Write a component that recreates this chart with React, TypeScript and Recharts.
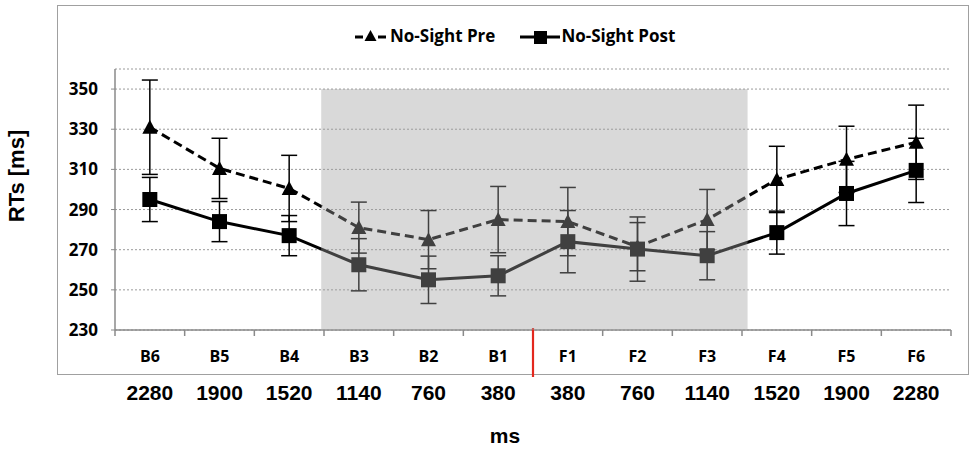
import React from 'react';
import {
  LineChart,
  Line,
  XAxis,
  YAxis,
  CartesianGrid,
  ErrorBar,
  ReferenceArea,
  Legend,
} from 'recharts';

// ---- data ----
const categories = ['B6', 'B5', 'B4', 'B3', 'B2', 'B1', 'F1', 'F2', 'F3', 'F4', 'F5', 'F6'];
const msLabels = ['2280', '1900', '1520', '1140', '760', '380', '380', '760', '1140', '1520', '1900', '2280'];
const preValues = [331, 310.5, 300.5, 281, 275, 285, 284, 271.5, 285, 305, 315, 323.5];
const preErrors = [23.5, 15, 16.5, 12.7, 14.5, 16.5, 17, 12, 15, 16.5, 16.5, 18.5];
const postValues = [295, 284, 277, 262.5, 255, 257, 274, 270.3, 267, 278.5, 298, 309.5];
const postErrors = [11, 10, 10, 13, 11.8, 10, 15.5, 16, 12, 10.7, 16, 16];
const yTicks = [230, 250, 270, 290, 310, 330, 350];
const seriesNames = { pre: 'No-Sight Pre', post: 'No-Sight Post' };

// shaded window (x in category index units, y in ms)
const SHADE_X1 = 2.46;
const SHADE_X2 = 8.58;
const SHADE_Y1 = 230;
const SHADE_Y2 = 350;
const DIVIDER = 5.5;

const rows = categories.map((c, i) => ({
  idx: i,
  pre: preValues[i],
  preErr: preErrors[i],
  post: postValues[i],
  postErr: postErrors[i],
}));

const xTicks: number[] = [];
for (let i = 0; i <= categories.length * 2; i++) xTicks.push(-0.5 + i * 0.5);

const CAL = "'Open Sans', 'DejaVu Sans', sans-serif";
const ARIAL = "'Liberation Sans', Arial, sans-serif";

const XTick = (props: any) => {
  const { x, y, payload } = props;
  const v = payload.value as number;
  if (Number.isInteger(v)) {
    return (
      <g>
        <text x={x} y={y + 32} textAnchor="middle" fontFamily={CAL} fontWeight={700} fontSize={16} fill="#000">
          {categories[v]}
        </text>
        <text x={x} y={y + 70} textAnchor="middle" fontFamily={ARIAL} fontWeight={700} fontSize={21} fill="#000">
          {msLabels[v]}
        </text>
      </g>
    );
  }
  return (
    <g>
      <line x1={x} x2={x} y1={y} y2={y + 6} stroke="#8a8a8a" strokeWidth={1.5} />
      {v === DIVIDER && <line x1={x} x2={x} y1={y - 2} y2={y + 47} stroke="#e3281e" strokeWidth={2.2} />}
    </g>
  );
};

const Triangle = (props: any) => {
  const { cx, cy, index } = props;
  if (cx == null || cy == null) return <g key={index} />;
  const w = 15;
  const h = 13;
  return (
    <polygon
      key={index}
      points={`${cx},${cy - h / 2 - 1} ${cx - w / 2},${cy + h / 2} ${cx + w / 2},${cy + h / 2}`}
      fill="#000"
      stroke="none"
    />
  );
};

const Square = (props: any) => {
  const { cx, cy, index } = props;
  if (cx == null || cy == null) return <g key={index} />;
  const s = 15;
  return <rect key={index} x={cx - s / 2} y={cy - s / 2} width={s} height={s} fill="#000" stroke="none" />;
};

const LegendContent = () => (
  <div style={{ display: 'flex', alignItems: 'center', fontFamily: CAL, fontWeight: 700, fontSize: 17, color: '#000' }}>
    <svg width={31} height={20} style={{ display: 'block' }}>
      <line x1={0} x2={8} y1={11} y2={11} stroke="#000" strokeWidth={3} />
      <polygon points="15.5,4 9.5,15 21.5,15" fill="#000" />
      <line x1={23} x2={31} y1={11} y2={11} stroke="#000" strokeWidth={3} />
    </svg>
    <span style={{ marginLeft: 4 }}>{seriesNames.pre}</span>
    <svg width={40} height={20} style={{ display: 'block', marginLeft: 25 }}>
      <line x1={0} x2={40} y1={11} y2={11} stroke="#000" strokeWidth={3} />
      <rect x={14} y={5} width={13} height={13} fill="#000" />
    </svg>
    <span style={{ marginLeft: 1 }}>{seriesNames.post}</span>
  </div>
);

const YLabel = () => (
  <text
    x={24}
    y={176}
    transform="rotate(-90 24 176)"
    textAnchor="middle"
    fontFamily={ARIAL}
    fontWeight={700}
    fontSize={22}
    fill="#000"
  >
    RTs [ms]
  </text>
);

const XLabel = (props: any) => {
  const vb = props.viewBox || { x: 115, y: 330, width: 836 };
  const cx = vb.x + vb.width / 2 - 28;
  return (
    <text x={cx} y={443} textAnchor="middle" fontFamily={ARIAL} fontWeight={700} fontSize={21} fill="#000">
      ms
    </text>
  );
};

export default function App() {
  return (
    <div style={{ position: 'absolute', left: 0, top: 0, width: 975, height: 450, background: '#fff' }}>
      <div
        style={{
          position: 'absolute',
          left: 57,
          top: 5,
          width: 910,
          height: 368,
          border: '1.5px solid #a0a0a0',
        }}
      />
      <div style={{ position: 'absolute', left: 0, top: 0 }}>
        <LineChart width={975} height={450} data={rows} margin={{ top: 69, right: 24, left: 0, bottom: 90 }}>
          <CartesianGrid vertical={false} stroke="#9a9a9a" strokeDasharray="2 2" />
          <XAxis
            dataKey="idx"
            type="number"
            domain={[-0.5, 11.5]}
            ticks={xTicks}
            interval={0}
            height={30}
            tickSize={0}
            tickMargin={0}
            tickLine={false}
            axisLine={{ stroke: '#8a8a8a', strokeWidth: 1.5 }}
            tick={<XTick />}
            label={<XLabel />}
          />
          <YAxis
            domain={[230, 360]}
            ticks={yTicks}
            interval={0}
            width={115}
            tickSize={4}
            tickMargin={13}
            tickLine={{ stroke: '#8a8a8a' }}
            axisLine={{ stroke: '#8a8a8a', strokeWidth: 1.5 }}
            tick={{ fontFamily: CAL, fontWeight: 700, fontSize: 17, fill: '#000' }}
            label={<YLabel />}
          />
          <Legend
            layout="horizontal"
            verticalAlign="middle"
            align="center"
            content={<LegendContent />}
            wrapperStyle={{ top: 24, left: 355, width: 340, height: 22 }}
          />
          <Line
            dataKey="pre"
            name={seriesNames.pre}
            stroke="#000"
            strokeWidth={3}
            strokeDasharray="9 5"
            dot={<Triangle />}
            activeDot={false}
            isAnimationActive={false}
          >
            <ErrorBar dataKey="preErr" width={8} stroke="#000" strokeWidth={1.5} direction="y" isAnimationActive={false} />
          </Line>
          <Line
            dataKey="post"
            name={seriesNames.post}
            stroke="#000"
            strokeWidth={3}
            dot={<Square />}
            activeDot={false}
            isAnimationActive={false}
          >
            <ErrorBar dataKey="postErr" width={8} stroke="#000" strokeWidth={1.5} direction="y" isAnimationActive={false} />
          </Line>
          <ReferenceArea
            x1={SHADE_X1}
            x2={SHADE_X2}
            y1={SHADE_Y1}
            y2={SHADE_Y2}
            fill="#a0a0a0"
            fillOpacity={0.4}
            stroke="none"
            ifOverflow="visible"
            zIndex={2000}
          />
        </LineChart>
      </div>
    </div>
  );
}
